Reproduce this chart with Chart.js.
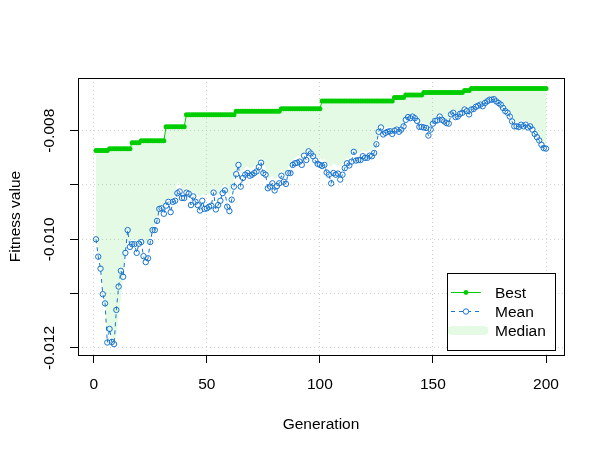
<!DOCTYPE html>
<html>
<head>
<meta charset="utf-8">
<script src="https://cdn.jsdelivr.net/npm/chart.js@4.4.1/dist/chart.umd.min.js"></script>
<style>
  html, body { margin: 0; padding: 0; background: #ffffff; }
  #wrap { width: 605px; height: 454px; }
</style>
</head>
<body>
<div id="wrap"><canvas id="gaChart" width="605" height="454"></canvas></div>
<script>
// values, generation 1..200

let bestFitness = [
  -0.008364, -0.008364, -0.008364, -0.008364, -0.008364, -0.008364,
  -0.008332, -0.008332, -0.008332, -0.008332, -0.008332, -0.008332, -0.008332, -0.008332, -0.008332, -0.008332,
  -0.008221, -0.008221, -0.008221, -0.008221,
  -0.008185, -0.008185, -0.008185, -0.008185, -0.008185, -0.008185, -0.008185, -0.008185, -0.008185, -0.008185, -0.008185,
  -0.007926, -0.007926, -0.007926, -0.007926, -0.007926, -0.007926, -0.007926, -0.007926, -0.007926,
  -0.007705, -0.007705, -0.007705, -0.007705, -0.007705, -0.007705, -0.007705, -0.007705, -0.007705, -0.007705, -0.007705,
  -0.007705, -0.007705, -0.007705, -0.007705, -0.007705, -0.007705, -0.007705, -0.007705, -0.007705, -0.007705, -0.007705,
  -0.007640, -0.007640, -0.007640, -0.007640, -0.007640, -0.007640, -0.007640, -0.007640, -0.007640, -0.007640,
  -0.007640, -0.007640, -0.007640, -0.007640, -0.007640, -0.007640, -0.007640, -0.007640, -0.007640, -0.007640,
  -0.007594, -0.007594, -0.007594, -0.007594, -0.007594, -0.007594, -0.007594, -0.007594, -0.007594,
  -0.007594, -0.007594, -0.007594, -0.007594, -0.007594, -0.007594, -0.007594, -0.007594, -0.007594,
  -0.007455, -0.007455, -0.007455, -0.007455, -0.007455, -0.007455, -0.007455, -0.007455, -0.007455, -0.007455, -0.007455,
  -0.007455, -0.007455, -0.007455, -0.007455, -0.007455, -0.007455, -0.007455, -0.007455, -0.007455, -0.007455, -0.007455,
  -0.007455, -0.007455, -0.007455, -0.007455, -0.007455, -0.007455, -0.007455, -0.007455, -0.007455, -0.007455,
  -0.007391, -0.007391, -0.007391, -0.007391, -0.007391,
  -0.007345, -0.007345, -0.007345, -0.007345, -0.007345, -0.007345, -0.007345, -0.007345,
  -0.007299, -0.007299, -0.007299, -0.007299, -0.007299, -0.007299, -0.007299, -0.007299, -0.007299,
  -0.007299, -0.007299, -0.007299, -0.007299, -0.007299, -0.007299, -0.007299, -0.007299, -0.007299,
  -0.007262, -0.007262, -0.007262,
  -0.007225, -0.007225, -0.007225, -0.007225, -0.007225, -0.007225, -0.007225, -0.007225, -0.007225, -0.007225, -0.007225,
  -0.007225, -0.007225, -0.007225, -0.007225, -0.007225, -0.007225, -0.007225, -0.007225, -0.007225, -0.007225, -0.007225,
  -0.007225, -0.007225, -0.007225, -0.007225, -0.007225, -0.007225, -0.007225, -0.007225, -0.007225, -0.007225, -0.007225,
  -0.007225
];

let meanFitness = [
  -0.01000, -0.01032, -0.01054, -0.01101, -0.01118, -0.01190, -0.01165, -0.01189, -0.01193, -0.01130,
  -0.01087, -0.01058, -0.01069, -0.01025, -0.00983, -0.01014, -0.01009, -0.01009, -0.01025, -0.01008,
  -0.01005, -0.01031, -0.01042, -0.01035, -0.01005, -0.00983, -0.00983, -0.00966, -0.00944, -0.00943,
  -0.00953, -0.00938, -0.00931, -0.00950, -0.00931, -0.00929, -0.00915, -0.00912, -0.00924, -0.00924,
  -0.00914, -0.00916, -0.00937, -0.00921, -0.00931, -0.00937, -0.00947, -0.00929, -0.00944, -0.00943,
  -0.00940, -0.00938, -0.00914, -0.00945, -0.00937, -0.00929, -0.00915, -0.00910, -0.00940, -0.00948,
  -0.00927, -0.00903, -0.00880, -0.00863, -0.00903, -0.00887, -0.00881, -0.00878, -0.00883, -0.00881,
  -0.00878, -0.00875, -0.00867, -0.00859, -0.00878, -0.00881, -0.00906, -0.00903, -0.00897, -0.00910,
  -0.00902, -0.00897, -0.00883, -0.00894, -0.00898, -0.00878, -0.00878, -0.00863, -0.00860, -0.00859,
  -0.00857, -0.00863, -0.00846, -0.00854, -0.00838, -0.00842, -0.00847, -0.00855, -0.00861, -0.00863,
  -0.00865, -0.00863, -0.00877, -0.00881, -0.00897, -0.00878, -0.00881, -0.00879, -0.00890, -0.00881,
  -0.00869, -0.00860, -0.00864, -0.00857, -0.00839, -0.00855, -0.00854, -0.00854, -0.00847, -0.00850,
  -0.00850, -0.00846, -0.00847, -0.00841, -0.00825, -0.00802, -0.00794, -0.00807, -0.00804, -0.00802,
  -0.00801, -0.00806, -0.00800, -0.00798, -0.00802, -0.00798, -0.00792, -0.00780, -0.00775, -0.00777,
  -0.00774, -0.00777, -0.00782, -0.00793, -0.00793, -0.00794, -0.00795, -0.00809, -0.00798, -0.00787,
  -0.00782, -0.00781, -0.00774, -0.00780, -0.00783, -0.00786, -0.00787, -0.00770, -0.00767, -0.00775,
  -0.00774, -0.00769, -0.00767, -0.00761, -0.00764, -0.00770, -0.00761, -0.00760, -0.00756, -0.00754,
  -0.00752, -0.00755, -0.00749, -0.00746, -0.00743, -0.00743, -0.00742, -0.00746, -0.00749, -0.00752,
  -0.00758, -0.00764, -0.00767, -0.00774, -0.00783, -0.00792, -0.00792, -0.00793, -0.00789, -0.00792,
  -0.00789, -0.00794, -0.00792, -0.00798, -0.00806, -0.00812, -0.00818, -0.00826, -0.00832, -0.00833
];

let medianFitness = [
  -0.00992, -0.01020, -0.01047, -0.01090, -0.01112, -0.01177, -0.01167, -0.01186, -0.01194, -0.01177,
  -0.01145, -0.01108, -0.01075, -0.01029, -0.01001, -0.01005, -0.01001, -0.01001, -0.01005, -0.01001,
  -0.00998, -0.01005, -0.01010, -0.01007, -0.00994, -0.00979, -0.00975, -0.00961, -0.00942, -0.00940,
  -0.00942, -0.00933, -0.00924, -0.00927, -0.00922, -0.00916, -0.00894, -0.00900, -0.00909, -0.00909,
  -0.00905, -0.00909, -0.00918, -0.00913, -0.00916, -0.00920, -0.00924, -0.00916, -0.00920, -0.00918,
  -0.00916, -0.00918, -0.00903, -0.00920, -0.00918, -0.00913, -0.00902, -0.00898, -0.00914, -0.00920,
  -0.00909, -0.00890, -0.00872, -0.00859, -0.00881, -0.00874, -0.00868, -0.00866, -0.00870, -0.00868,
  -0.00866, -0.00863, -0.00857, -0.00850, -0.00863, -0.00868, -0.00887, -0.00887, -0.00883, -0.00890,
  -0.00887, -0.00881, -0.00872, -0.00879, -0.00881, -0.00866, -0.00865, -0.00854, -0.00850, -0.00848,
  -0.00846, -0.00850, -0.00839, -0.00842, -0.00831, -0.00835, -0.00839, -0.00844, -0.00850, -0.00850,
  -0.00854, -0.00852, -0.00859, -0.00863, -0.00868, -0.00861, -0.00863, -0.00863, -0.00866, -0.00863,
  -0.00855, -0.00850, -0.00852, -0.00846, -0.00835, -0.00842, -0.00841, -0.00841, -0.00837, -0.00839,
  -0.00839, -0.00835, -0.00837, -0.00831, -0.00817, -0.00794, -0.00789, -0.00796, -0.00794, -0.00794,
  -0.00793, -0.00796, -0.00793, -0.00791, -0.00793, -0.00791, -0.00785, -0.00774, -0.00770, -0.00770,
  -0.00769, -0.00770, -0.00774, -0.00785, -0.00785, -0.00787, -0.00787, -0.00794, -0.00789, -0.00781,
  -0.00776, -0.00774, -0.00769, -0.00774, -0.00776, -0.00778, -0.00780, -0.00765, -0.00761, -0.00767,
  -0.00767, -0.00763, -0.00761, -0.00756, -0.00757, -0.00763, -0.00756, -0.00754, -0.00750, -0.00748,
  -0.00746, -0.00748, -0.00743, -0.00741, -0.00739, -0.00739, -0.00737, -0.00741, -0.00743, -0.00746,
  -0.00752, -0.00757, -0.00761, -0.00767, -0.00774, -0.00783, -0.00783, -0.00785, -0.00781, -0.00783,
  -0.00781, -0.00785, -0.00785, -0.00793, -0.00800, -0.00806, -0.00811, -0.00818, -0.00824, -0.00826
];

let generations = bestFitness.map((v, i) => i + 1);

let xTickValues = [0, 50, 100, 150, 200];
let yTickValues = [-0.012, -0.011, -0.010, -0.009, -0.008];
let yTickLabels = ['-0.012', '', '-0.010', '', '-0.008'];

let seriesNames = ['Best', 'Mean', 'Median'];

const green3 = '#00CD00';
const dodgerblue3 = '#1874CD';
const medianFill = 'rgba(0, 205, 0, 0.1)';
const fontFamily = '"Liberation Sans", Arial, Helvetica, sans-serif';

function toPoints(values) {
    return generations.map((g, i) => ({ x: g, y: values[i] }));
}

// R-like box, rotated y labels and the legend
const rDecor = {
    id: 'rDecor',
    afterDraw(chart) {
        const ctx = chart.ctx;
        const area = chart.chartArea;
        const yScale = chart.scales.y;

        ctx.save();
        ctx.strokeStyle = '#000000';
        ctx.lineWidth = 1;
        ctx.strokeRect(Math.round(area.left) + 0.5, Math.round(area.top) + 0.5,
            Math.round(area.right - area.left), Math.round(area.bottom - area.top));

        // y tick labels, vertical like R las = 0
        ctx.fillStyle = '#000000';
        ctx.font = '15.5px ' + fontFamily;
        ctx.textAlign = 'center';
        ctx.textBaseline = 'middle';
        for (let i = 0; i < yTickValues.length; i++) {
            if (!yTickLabels[i]) continue;
            const py = yScale.getPixelForValue(yTickValues[i]);
            ctx.save();
            ctx.translate(area.left - 28, py);
            ctx.rotate(-Math.PI / 2);
            ctx.fillText(yTickLabels[i], 0, 0);
            ctx.restore();
        }

        // legend box, bottom right
        const lx = area.right - 117, ly = area.bottom - 82;
        const lw = 108, lh = 77;
        ctx.fillStyle = '#ffffff';
        ctx.fillRect(lx, ly, lw, lh);
        ctx.strokeStyle = '#000000';
        ctx.strokeRect(lx + 0.5, ly + 0.5, lw, lh);

        const rowY = [ly + 19.5, ly + 38.5, ly + 57.5];
        const x0 = lx + 4, x1 = lx + 34, xm = lx + 19;

        // Best
        ctx.strokeStyle = green3;
        ctx.lineWidth = 1;
        ctx.beginPath(); ctx.moveTo(x0, rowY[0]); ctx.lineTo(x1, rowY[0]); ctx.stroke();
        ctx.fillStyle = green3;
        ctx.beginPath(); ctx.arc(xm, rowY[0], 2.4, 0, Math.PI * 2); ctx.fill();

        // Mean
        ctx.strokeStyle = dodgerblue3;
        ctx.setLineDash([4, 4]);
        ctx.beginPath(); ctx.moveTo(x0, rowY[1]); ctx.lineTo(x1, rowY[1]); ctx.stroke();
        ctx.setLineDash([]);
        ctx.fillStyle = '#ffffff';
        ctx.beginPath(); ctx.arc(xm, rowY[1], 2.7, 0, Math.PI * 2); ctx.fill(); ctx.stroke();

        // Median
        ctx.strokeStyle = medianFill;
        ctx.lineWidth = 9;
        ctx.lineCap = 'round';
        ctx.beginPath(); ctx.moveTo(x0 + 1, rowY[2]); ctx.lineTo(x1 + 3, rowY[2]); ctx.stroke();
        ctx.lineCap = 'butt';

        ctx.fillStyle = '#000000';
        ctx.font = '15.5px ' + fontFamily;
        ctx.textAlign = 'left';
        ctx.textBaseline = 'middle';
        for (let i = 0; i < seriesNames.length; i++) {
            ctx.fillText(seriesNames[i], lx + 48, rowY[i] + 1);
        }
        ctx.restore();
    }
};

let elCanvas = document.getElementById('gaChart').getContext('2d');

let gaChart = new Chart(elCanvas, {
    type: 'line',
    data: {
        datasets: [
            {
                label: 'Best',
                data: toPoints(bestFitness),
                borderColor: green3,
                backgroundColor: green3,
                borderWidth: 1,
                pointRadius: 2.5,
                pointBorderWidth: 0,
                pointBackgroundColor: green3,
                fill: false,
                order: 0
            },
            {
                label: 'Mean',
                data: toPoints(meanFitness),
                borderColor: dodgerblue3,
                borderWidth: 1,
                borderDash: [4, 4],
                pointRadius: 2.7,
                pointBorderWidth: 1,
                pointBorderColor: dodgerblue3,
                pointBackgroundColor: 'rgba(0,0,0,0)',
                fill: false,
                order: 1
            },
            {
                label: 'Median',
                data: toPoints(medianFitness),
                borderWidth: 0,
                borderColor: 'rgba(0,0,0,0)',
                pointRadius: 0,
                backgroundColor: medianFill,
                fill: { target: 0 },
                order: 2
            }
        ]
    },
    options: {
        responsive: false,
        animation: false,
        events: [],
        layout: { padding: { top: 78, right: 41, left: 0, bottom: 0 } },
        plugins: {
            legend: { display: false },
            tooltip: { enabled: false }
        },
        scales: {
            x: {
                type: 'linear',
                min: -6.96,
                max: 207.96,
                afterBuildTicks: (scale) => { scale.ticks = xTickValues.map(v => ({ value: v })); },
                afterFit: (scale) => { scale.height = 99; },
                grid: {
                    color: '#d3d3d3',
                    lineWidth: 1,
                    drawTicks: true,
                    tickLength: 8,
                    tickColor: '#000000',
                    tickBorderDash: []
                },
                border: { display: false, dash: [1, 3] },
                ticks: {
                    color: '#000000',
                    font: { family: fontFamily, size: 15.5 },
                    padding: 12,
                    maxRotation: 0,
                    callback: (v) => String(v)
                },
                title: {
                    display: true,
                    text: 'Generation',
                    color: '#000000',
                    font: { family: fontFamily, size: 15.5 },
                    padding: { top: 0, bottom: 20 }
                }
            },
            y: {
                type: 'linear',
                min: -0.01213,
                max: -0.00703,
                afterBuildTicks: (scale) => { scale.ticks = yTickValues.map(v => ({ value: v })); },
                afterFit: (scale) => { scale.width = 78; },
                grid: {
                    color: '#d3d3d3',
                    lineWidth: 1,
                    drawTicks: true,
                    tickLength: 8,
                    tickColor: '#000000',
                    tickBorderDash: []
                },
                border: { display: false, dash: [1, 3] },
                ticks: { display: false },
                title: {
                    display: true,
                    text: 'Fitness value',
                    color: '#000000',
                    font: { family: fontFamily, size: 15.5 },
                    padding: { top: 6, bottom: 0 }
                }
            }
        }
    },
    plugins: [rDecor]
});
</script>
</body>
</html>
